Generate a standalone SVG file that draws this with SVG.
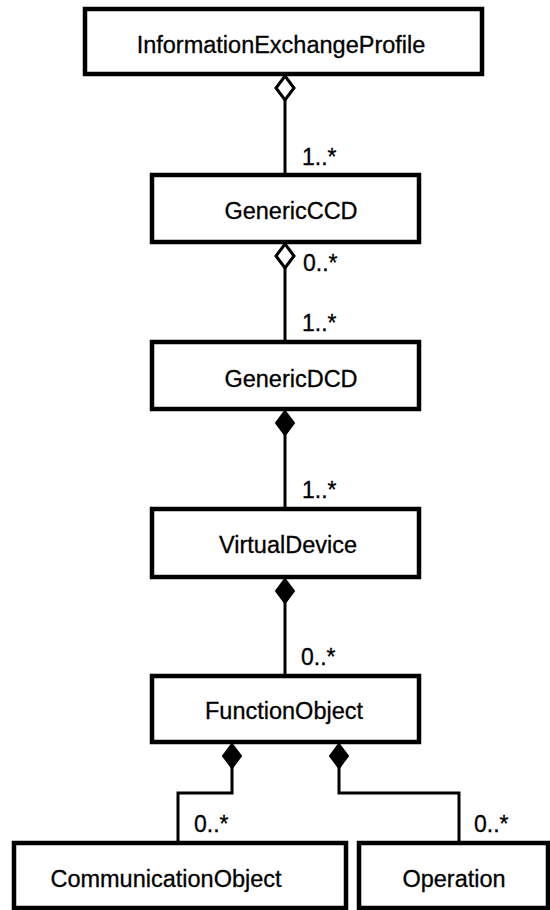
<svg xmlns="http://www.w3.org/2000/svg" xmlns:xlink="http://www.w3.org/1999/xlink" width="550" height="910" viewBox="0 0 550 910">
<style>
.box{fill:#fff;stroke:#000;stroke-width:4.5}
.lbl{font-family:"Liberation Sans",Arial,sans-serif;font-size:23.5px;fill:#000;text-anchor:middle;stroke:#000;stroke-width:0.3}
.mult{font-family:"Liberation Sans",Arial,sans-serif;font-size:23px;fill:#000;stroke:#000;stroke-width:0.3}
.line{fill:none;stroke:#000;stroke-width:3}
.hollow{fill:#fff;stroke:#000;stroke-width:3}
.solid{fill:#000;stroke:#000;stroke-width:2}
</style>
<defs>
<path id="dia" d="M0,0 L9,12 L0,24 L-9,12 Z"/>
</defs>
<rect width="550" height="910" fill="#fff"/>
<g id="connectors">
<path class="line" d="M285,99 V175"/>
<use xlink:href="#dia" class="hollow" x="285" y="76"/>
<path class="line" d="M285,267 V342"/>
<use xlink:href="#dia" class="hollow" x="285" y="244"/>
<path class="line" d="M285,434 V509"/>
<use xlink:href="#dia" class="solid" x="285" y="411"/>
<path class="line" d="M285,602 V676"/>
<use xlink:href="#dia" class="solid" x="285" y="579"/>
<path class="line" d="M232,767 V793 H178 V843"/>
<use xlink:href="#dia" class="solid" x="232" y="744"/>
<path class="line" d="M339,767 V793 H459 V843"/>
<use xlink:href="#dia" class="solid" x="339" y="744"/>
<text class="mult" x="302" y="165">1..*</text>
<text class="mult" x="303" y="271">0..*</text>
<text class="mult" x="302" y="331">1..*</text>
<text class="mult" x="302" y="498">1..*</text>
<text class="mult" x="301" y="665">0..*</text>
<text class="mult" x="194" y="832">0..*</text>
<text class="mult" x="474" y="832">0..*</text>
</g>
<g id="InformationExchangeProfile">
<rect class="box" x="85" y="9" width="397" height="65"/>
<text class="lbl" x="281" y="53">InformationExchangeProfile</text>
</g>
<g id="GenericCCD">
<rect class="box" x="152" y="175" width="267" height="67"/>
<text class="lbl" x="291" y="219">GenericCCD</text>
</g>
<g id="GenericDCD">
<rect class="box" x="152" y="342" width="267" height="67"/>
<text class="lbl" x="291" y="387">GenericDCD</text>
</g>
<g id="VirtualDevice">
<rect class="box" x="152" y="509" width="267" height="68"/>
<text class="lbl" x="288" y="553">VirtualDevice</text>
</g>
<g id="FunctionObject">
<rect class="box" x="152" y="676" width="267" height="66"/>
<text class="lbl" x="284" y="719">FunctionObject</text>
</g>
<g id="CommunicationObject">
<rect class="box" x="14" y="843" width="332" height="65"/>
<text class="lbl" x="166" y="887">CommunicationObject</text>
</g>
<g id="Operation">
<rect class="box" x="359" y="843" width="189" height="65"/>
<text class="lbl" x="454" y="887">Operation</text>
</g>
</svg>
